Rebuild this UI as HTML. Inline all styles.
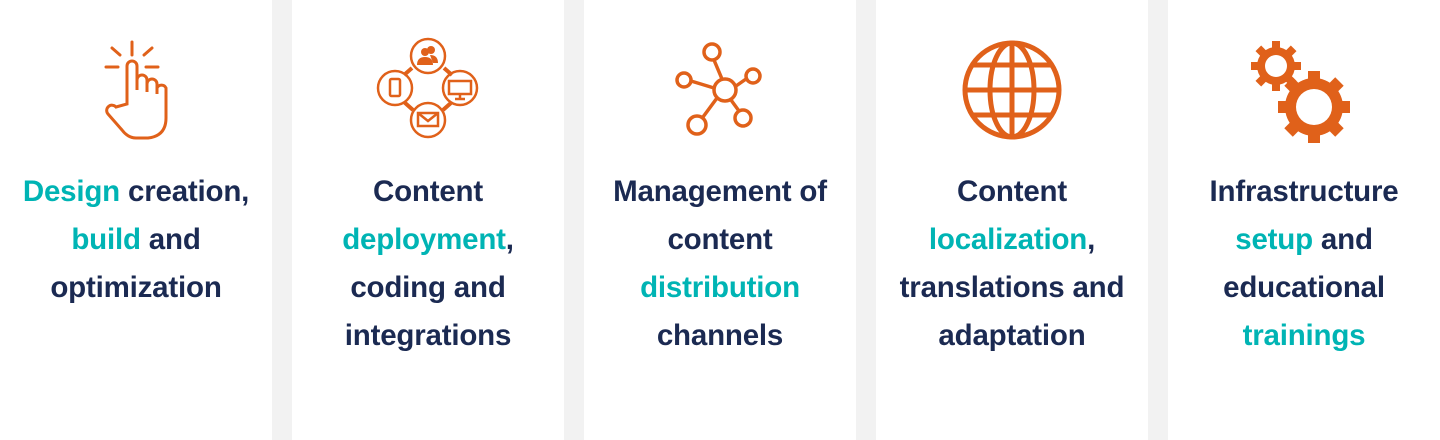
<!DOCTYPE html>
<html><head><style>
body{margin:0;width:1440px;height:440px;background:#f2f2f2;position:relative;overflow:hidden;font-family:"Liberation Sans",sans-serif}
.c{position:absolute;top:0;width:272px;height:440px;background:#fff}
.t{position:absolute;top:168px;left:-10px;width:292px;text-align:center;font-size:29.5px;line-height:48px;font-weight:bold;color:#1b2a52;letter-spacing:-0.2px}
.h{color:#00b4b4}
svg{position:absolute;top:0;left:0}
</style></head><body>
<div class="c" style="left:0"><div class="t"><span class="h">Design</span> creation,<br><span class="h">build</span> and<br>optimization</div></div>
<div class="c" style="left:292px"><div class="t">Content<br><span class="h">deployment</span>,<br>coding and<br>integrations</div></div>
<div class="c" style="left:584px"><div class="t">Management of<br>content<br><span class="h">distribution</span><br>channels</div></div>
<div class="c" style="left:876px"><div class="t">Content<br><span class="h">localization</span>,<br>translations and<br>adaptation</div></div>
<div class="c" style="left:1168px"><div class="t">Infrastructure<br><span class="h">setup</span> and<br>educational<br><span class="h">trainings</span></div></div>
<svg width="1440" height="160" fill="none" stroke="#e0611a" stroke-width="3">
<g stroke-linecap="round">
<line x1="132" y1="42" x2="132" y2="55"/><line x1="112" y1="48" x2="120" y2="55"/><line x1="152" y1="48" x2="144" y2="55"/><line x1="106" y1="67" x2="118" y2="67"/><line x1="146" y1="67" x2="158" y2="67"/>
<path d="M127 104 V66 a5 5 0 0 1 10 0 V90 V80 a5 5 0 0 1 10 0 V92 V84 a5 5 0 0 1 10 0 V94 V88 a5 5 0 0 1 9 0 V118 q0 18 -18 20 h-12 q-8 0 -14 -8 l-14 -16 a5 5 0 0 1 8 -7 z"/>
</g>
<g stroke-width="2.5">
<circle cx="428" cy="56" r="17"/><circle cx="395" cy="88" r="17"/><circle cx="460" cy="88" r="17"/><circle cx="428" cy="120" r="17"/>
<line x1="412" y1="68" x2="404" y2="75" stroke-width="4"/><line x1="444" y1="68" x2="452" y2="75" stroke-width="4"/><line x1="404" y1="102" x2="413" y2="110" stroke-width="4"/><line x1="452" y1="102" x2="443" y2="110" stroke-width="4"/>
<rect x="390" y="79" width="10" height="17" rx="1.5"/>
<rect x="449" y="81" width="22" height="13"/><line x1="460" y1="94" x2="460" y2="98"/><line x1="455" y1="99" x2="465" y2="99"/>
<rect x="418" y="113" width="20" height="13"/><path d="M418 113 l10 8 l10 -8"/>
</g>
<g fill="#e0611a" stroke="none"><circle cx="425" cy="52" r="4"/><path d="M417 65 q0 -8 8 -8 q8 0 8 8z"/><circle cx="431" cy="50" r="4"/><path d="M430 55 q8 0 8 8 h-5z"/></g>
<g stroke-width="3.5">
<circle cx="725" cy="90" r="11"/><circle cx="712" cy="52" r="8"/><circle cx="684" cy="80" r="7"/><circle cx="753" cy="76" r="7"/><circle cx="697" cy="125" r="9"/><circle cx="743" cy="118" r="8"/>
<line x1="722" y1="79" x2="714" y2="60"/><line x1="714" y1="88" x2="691" y2="81"/><line x1="736" y1="86" x2="746" y2="79"/><line x1="717" y1="98" x2="703" y2="117"/><line x1="731" y1="100" x2="739" y2="111"/>
</g>
<g stroke-width="5">
<circle cx="1012" cy="90" r="47"/><ellipse cx="1012" cy="90" rx="22" ry="47"/><line x1="1012" y1="43" x2="1012" y2="137"/><line x1="965" y1="90" x2="1059" y2="90"/><path d="M973 65 h78 M973 115 h78"/>
</g>
<g stroke="none" fill="#e0611a">
<circle cx="1276" cy="66" r="19"/>
<g transform="translate(1276 66)"><rect x="-4" y="-25" width="8" height="50"/><rect x="-4" y="-25" width="8" height="50" transform="rotate(45)"/><rect x="-4" y="-25" width="8" height="50" transform="rotate(90)"/><rect x="-4" y="-25" width="8" height="50" transform="rotate(135)"/></g>
<circle cx="1314" cy="107" r="29"/>
<g transform="translate(1314 107)"><rect x="-6" y="-36" width="12" height="72"/><rect x="-6" y="-36" width="12" height="72" transform="rotate(45)"/><rect x="-6" y="-36" width="12" height="72" transform="rotate(90)"/><rect x="-6" y="-36" width="12" height="72" transform="rotate(135)"/></g>
<circle cx="1276" cy="66" r="11" fill="#fff"/><circle cx="1314" cy="107" r="18" fill="#fff"/>
</g>
</svg>
</body></html>
